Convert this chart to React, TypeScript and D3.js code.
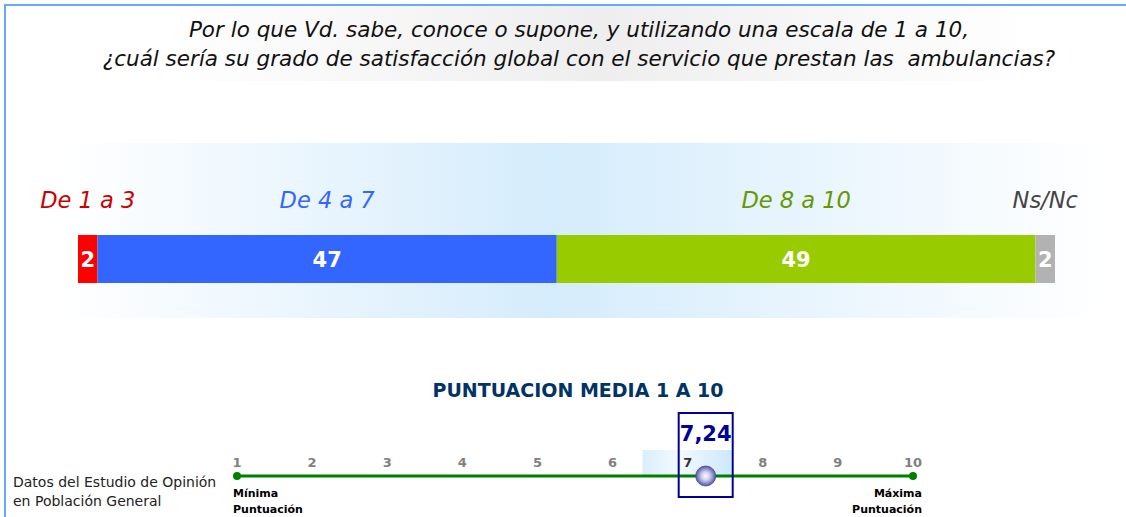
import React from 'react';
import * as d3 from 'd3';

const categories = ['De 1 a 3', 'De 4 a 7', 'De 8 a 10', 'Ns/Nc'];
const values = [2, 47, 49, 2];
const barColors = ['#ff0000', '#3366ff', '#99cc00', '#b2b2b2'];
const labelColors = ['#cc0000', '#3366ff', '#669900', '#444444'];

const scaleTicks = [1, 2, 3, 4, 5, 6, 7, 8, 9, 10];
const meanScore = 7.24;

const titleLines = [
  'Por lo que Vd. sabe, conoce o supone, y utilizando una escala de 1 a 10,',
  '¿cuál sería su grado de satisfacción global con el servicio que prestan las  ambulancias?',
];

const W = 1126;
const H = 517;

const App = () => {
  // stacked bar
  const starts = d3.cumsum([0, ...values]).slice(0, values.length);
  const x = d3.scaleLinear().domain([0, d3.sum(values)]).range([78, 1055]);
  const barY = 235;
  const barH = 48;

  // score scale
  const s = d3.scaleLinear().domain([1, 10]).range([237, 913]);
  const lineY = 476;
  const mx = s(meanScore);
  const nearest = Math.floor(meanScore);

  return (
    <svg width={W} height={H} style={{ position: 'absolute', left: 0, top: 0, fontFamily: 'DejaVu Sans' }}>
      <defs>
        <linearGradient id="titleBg" x1="0" x2="1" y1="0" y2="0">
          <stop offset="0" stopColor="#ffffff" />
          <stop offset="0.5" stopColor="#eeeeee" />
          <stop offset="1" stopColor="#ffffff" />
        </linearGradient>
        <linearGradient id="bandBg" x1="0" x2="1" y1="0" y2="0">
          <stop offset="0" stopColor="#ffffff" />
          <stop offset="0.47" stopColor="#d5ecfc" />
          <stop offset="1" stopColor="#ffffff" />
        </linearGradient>
        <linearGradient id="hiBg" x1="0" x2="1" y1="0" y2="0">
          <stop offset="0" stopColor="#d8eefc" />
          <stop offset="0.4" stopColor="#f4faff" />
          <stop offset="1" stopColor="#cde8fb" />
        </linearGradient>
        <radialGradient id="ball" cx="0.5" cy="0.5" r="0.5">
          <stop offset="0" stopColor="#ffffff" />
          <stop offset="0.45" stopColor="#c9c9ea" />
          <stop offset="1" stopColor="#5555a8" />
        </radialGradient>
      </defs>

      {/* frame */}
      <line x1={5} x2={5} y1={4} y2={H} stroke="#66aaff" strokeWidth={2} />
      <line x1={4} x2={W} y1={5} y2={5} stroke="#66aaff" strokeWidth={2} />

      {/* title */}
      <rect x={167} y={6} width={868} height={75} fill="url(#titleBg)" />
      {titleLines.map((t, i) => (
        <text
          key={i}
          x={579}
          y={37 + i * 29}
          textAnchor="middle"
          fontStyle="italic"
          fontSize={21.5}
          fill="#111"
          style={{ whiteSpace: 'pre' }}
        >
          {t}
        </text>
      ))}

      {/* band */}
      <rect x={60} y={143} width={1045} height={175} fill="url(#bandBg)" />
      {categories.map((c, i) => (
        <text
          key={c}
          x={x(starts[i] + values[i] / 2)}
          y={208}
          textAnchor="middle"
          fontStyle="italic"
          fontSize={22.5}
          fill={labelColors[i]}
        >
          {c}
        </text>
      ))}
      {values.map((v, i) => (
        <g key={i}>
          <rect x={x(starts[i])} y={barY} width={x(starts[i] + v) - x(starts[i])} height={barH} fill={barColors[i]} />
          <text
            x={x(starts[i] + v / 2)}
            y={barY + barH / 2 + 8}
            textAnchor="middle"
            fontWeight="bold"
            fontSize={21}
            fill="#ffffff"
          >
            {v}
          </text>
        </g>
      ))}

      {/* score section */}
      <text x={578} y={397} textAnchor="middle" fontWeight="bold" fontSize={19} fill="#003366">
        PUNTUACION MEDIA 1 A 10
      </text>

      <text x={13} y={487} fontSize={14} fill="#222">Datos del Estudio de Opinión</text>
      <text x={13} y={506} fontSize={14} fill="#222">en Población General</text>

      <rect x={s(nearest) - 45} y={450} width={89} height={26} fill="url(#hiBg)" />

      <line x1={s(1)} x2={s(10)} y1={lineY} y2={lineY} stroke="#008000" strokeWidth={3} />
      <circle cx={s(1)} cy={lineY} r={4} fill="#008000" />
      <circle cx={s(10)} cy={lineY} r={4} fill="#008000" />

      {scaleTicks.map((t) => (
        <text
          key={t}
          x={s(t)}
          y={467}
          textAnchor="middle"
          fontWeight="bold"
          fontSize={13}
          fill={t === nearest ? '#333333' : '#808080'}
        >
          {t}
        </text>
      ))}

      <text x={s(1) - 4} y={497} fontWeight="bold" fontSize={11} fill="#000">Mínima</text>
      <text x={s(1) - 4} y={513} fontWeight="bold" fontSize={11} fill="#000">Puntuación</text>
      <text x={s(10) + 9} y={497} textAnchor="end" fontWeight="bold" fontSize={11} fill="#000">Máxima</text>
      <text x={s(10) + 9} y={513} textAnchor="end" fontWeight="bold" fontSize={11} fill="#000">Puntuación</text>

      <rect x={mx - 27} y={413} width={54} height={84} fill="none" stroke="#000099" strokeWidth={2} />
      <text x={mx} y={441} textAnchor="middle" fontWeight="bold" fontSize={21} fill="#000099">
        {meanScore.toFixed(2).replace('.', ',')}
      </text>
      <circle cx={mx} cy={lineY} r={10} fill="url(#ball)" stroke="#44449a" strokeWidth={0.8} />
    </svg>
  );
};

export default App;
